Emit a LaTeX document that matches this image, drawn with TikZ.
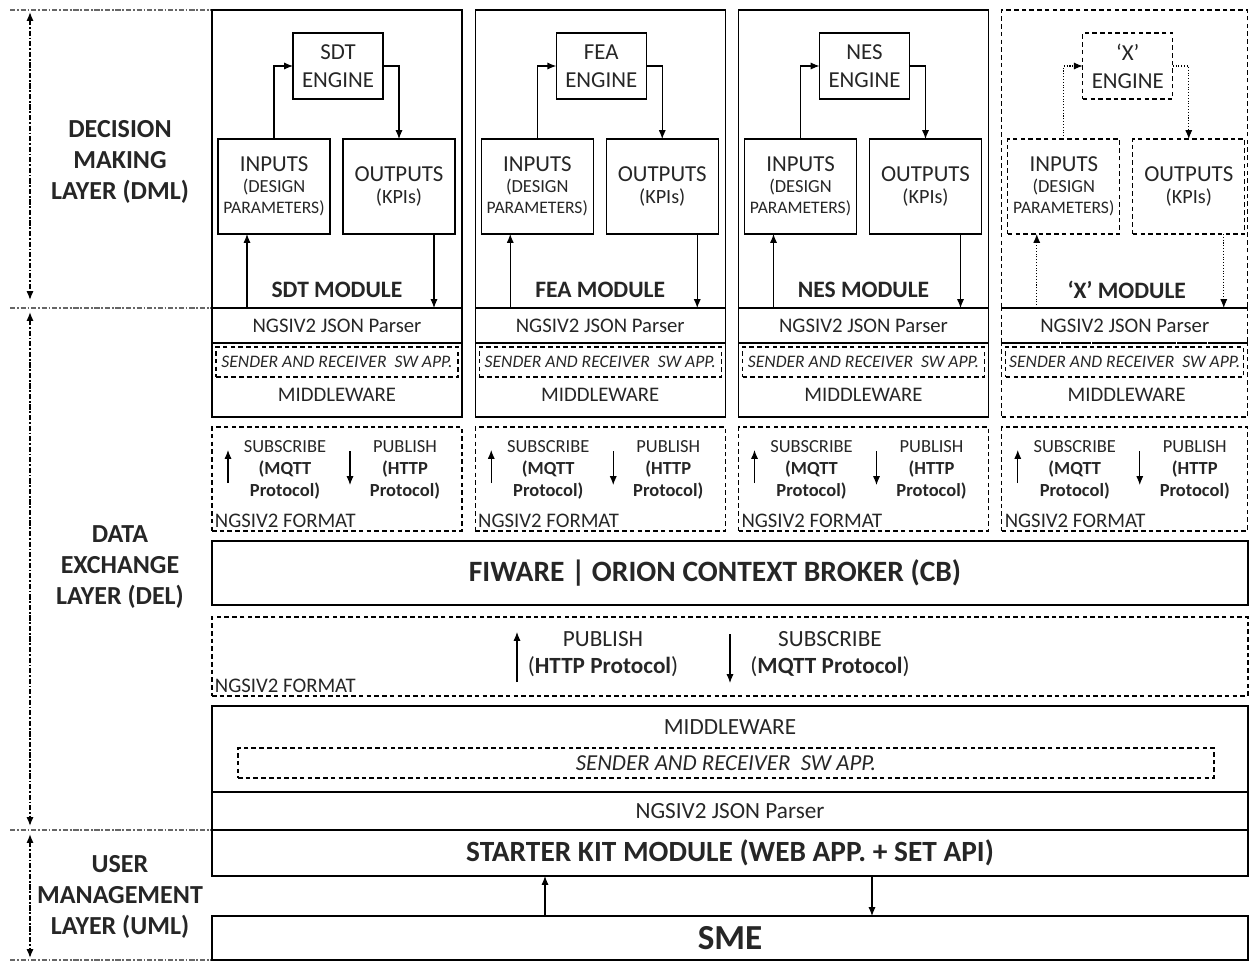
\documentclass[tikz,border=0pt]{standalone}
\usepackage{fontspec}
\setmainfont{Carlito}
\usetikzlibrary{arrows.meta}
\tikzset{
  >={Latex[length=5pt,width=4pt]},
  box/.style={draw,line width=0.8pt,inner sep=0pt,outer sep=0pt},
  dsh/.style={dash pattern=on 2.6pt off 1.8pt},
  arr/.style={->,line width=0.6pt},
  sep/.style={line width=0.8pt,black!60,dash pattern=on 3pt off 1pt on 1pt off 1pt},
  layer/.style={font=\bfseries\fontsize{14.8}{17.6}\selectfont,align=center},
  txt/.style={font=\fontsize{10.5}{12.5}\selectfont,align=center},
  mid/.style={font=\fontsize{11.8}{14}\selectfont,align=center},
  cen/.style={font=\fontsize{13.2}{15.3}\selectfont,align=center},
  big/.style={font=\fontsize{13}{16}\selectfont,align=center},
  sender/.style={box,dsh,font=\itshape\fontsize{10}{12}\selectfont}
}
\begin{document}
\begin{tikzpicture}[text=black!85]
\useasboundingbox (0,0) rectangle (24.98,-19.24);

%% Layer separators
\foreach \y in {-0.2,-6.16,-16.6,-19.2}
  \draw[sep] (0.2,\y) -- (4.24,\y);

%% Layer arrows
\coordinate (dml-t) at (0.6,-0.24);
\coordinate (dml-b) at (0.6,-6.0);
\coordinate (del-t) at (0.6,-6.24);
\coordinate (del-b) at (0.6,-16.52);
\coordinate (uml-t) at (0.6,-16.68);
\coordinate (uml-b) at (0.6,-19.16);
\draw[<->,sep,black] (dml-t) -- (dml-b);
\draw[<->,sep,black] (del-t) -- (del-b);
\draw[<->,sep,black] (uml-t) -- (uml-b);

%% Layer labels
\node[layer] (dml) at (2.4,-3.24) {DECISION\\MAKING\\LAYER (DML)};
\node[layer] (del) at (2.4,-11.34) {DATA\\EXCHANGE\\LAYER (DEL)};
\node[layer] (uml) at (2.4,-17.94) {USER\\MANAGEMENT\\LAYER (UML)};

%% Modules
\foreach \i/\nm/\x/\w/\bx/\ar in {1/SDT/4.24/5/solid/solid,2/FEA/9.505/5/solid/solid,
    3/NES/14.77/5/solid/solid,4/‘X’/20.035/4.92/dsh/densely dotted}{
  \node[box,\bx,anchor=north west,minimum width=\w cm,minimum height=5.96cm] (mod\i) at (\x,-0.2) {};
  \node[box,\bx,big,minimum width=1.8cm,minimum height=1.32cm] (eng\i) at (\x+2.52,-1.32) {\nm\\ENGINE};
  \node[box,\bx,minimum width=2.24cm,minimum height=1.9cm,align=center] (inp\i) at (\x+1.24,-3.73)
    {\fontsize{13}{13.6}\selectfont INPUTS\\\fontsize{10.5}{12}\selectfont(DESIGN\\\fontsize{10}{12}\selectfont PARAMETERS)};
  \node[box,\bx,minimum width=2.24cm,minimum height=1.9cm,align=center] (out\i) at (\x+3.74,-3.73)
    {\fontsize{13}{14.7}\selectfont OUTPUTS\\\fontsize{11.5}{14}\selectfont(KPIs)};
  \node[font=\bfseries\fontsize{13.4}{15}\selectfont] (lbl\i) at (\x+2.5,-5.8) {\nm\ MODULE};
  %% Engine loop
  \draw[arr,\ar] (inp\i.north) |- (eng\i.west);
  \draw[arr,\ar] (eng\i.east) -| (out\i.north);
  \coordinate (in\i) at (\x+0.7,-6.16);
  \coordinate (ou\i) at (\x+4.44,-6.16);
  \draw[arr,\ar] (in\i) -- (in\i |- inp\i.south);
  \draw[arr,\ar] (out\i.south -| ou\i) -- (ou\i);
  %% Parser and middleware
  \node[box,\bx,mid,anchor=north west,minimum width=\w cm,minimum height=0.7cm] (prs\i) at (\x,-6.16) {NGSIV2 JSON Parser};
  \node[box,\bx,anchor=north west,minimum width=\w cm,minimum height=1.48cm] (mid\i) at (\x,-6.86) {};
  \node[sender,minimum width=\w cm-0.16cm,minimum height=0.6cm] (snd\i) at (\x+\w/2,-7.24) {SENDER AND RECEIVER\ \ SW APP.};
  \node[mid] (mwt\i) at (\x+2.5,-7.9) {MIDDLEWARE};
  %% Protocols
  \node[box,dsh,anchor=north west,minimum width=\w cm,minimum height=2.08cm] (pro\i) at (\x,-8.54) {};
  \coordinate (su\i-a) at (\x+0.32,-9.66);
  \coordinate (su\i-b) at (\x+0.32,-9.0);
  \coordinate (pu\i-a) at (\x+2.76,-9.02);
  \coordinate (pu\i-b) at (\x+2.76,-9.7);
  \draw[arr] (su\i-a) -- (su\i-b);
  \draw[arr] (pu\i-a) -- (pu\i-b);
  \node[txt] (sub\i) at (\x+1.46,-9.4) {SUBSCRIBE\\\textbf{(MQTT}\\\textbf{Protocol)}};
  \node[txt] (pub\i) at (\x+3.86,-9.4) {PUBLISH\\\textbf{(HTTP}\\\textbf{Protocol)}};
  \node[mid,anchor=south west,inner sep=1.5pt] (fmt\i) at (pro\i.south west) {NGSIV2 FORMAT};
}

%% Context broker
\node[box,anchor=north west,minimum width=20.72cm,minimum height=1.28cm] (cb) at (4.24,-10.82) {};
\node[font=\bfseries\fontsize{16.8}{20}\selectfont] (cbt) at (14.3,-11.46) {FIWARE | ORION CONTEXT BROKER (CB)};

%% Central NGSIV2 format
\node[box,dsh,anchor=north west,minimum width=20.72cm,minimum height=1.58cm] (ngs) at (4.24,-12.34) {};
\coordinate (pb-a) at (10.34,-13.64);
\coordinate (pb-b) at (10.34,-12.64);
\coordinate (sb-a) at (14.6,-12.68);
\coordinate (sb-b) at (14.6,-13.66);
\draw[arr] (pb-a) -- (pb-b);
\draw[arr] (sb-a) -- (sb-b);
\node[cen] (pbt) at (12.06,-13.09) {PUBLISH\\(\textbf{HTTP Protocol})};
\node[cen] (sbt) at (16.6,-13.09) {SUBSCRIBE\\(\textbf{MQTT Protocol})};
\node[mid,anchor=south west,inner sep=1.5pt] (fmt) at (ngs.south west) {NGSIV2 FORMAT};

%% Central middleware and parser
\node[box,anchor=north west,minimum width=20.72cm,minimum height=1.72cm] (mw) at (4.24,-14.12) {};
\node[cen] (mwt) at (14.6,-14.54) {MIDDLEWARE};
\node[sender,minimum width=19.52cm,minimum height=0.6cm,font=\itshape\fontsize{13}{15}\selectfont] (snd) at (14.52,-15.26) {SENDER AND RECEIVER\ \ SW APP.};
\node[box,cen,anchor=north west,minimum width=20.72cm,minimum height=0.76cm] (jp) at (4.24,-15.84) {NGSIV2 JSON Parser};

%% User management
\node[box,anchor=north west,minimum width=20.72cm,minimum height=0.92cm,font=\bfseries\fontsize{16.7}{19}\selectfont] (sk) at (4.24,-16.6) {STARTER KIT MODULE (WEB APP. + SET API)};
\node[box,anchor=north west,minimum width=20.72cm,minimum height=0.88cm,font=\bfseries\fontsize{20}{22}\selectfont] (sme) at (4.24,-18.32) {SME};
\coordinate (upx) at (10.9,0);
\coordinate (dnx) at (17.44,0);
\draw[arr] (sme.north -| upx) -- (sk.south -| upx);
\draw[arr] (sk.south -| dnx) -- (sme.north -| dnx);
\end{tikzpicture}
\end{document}
